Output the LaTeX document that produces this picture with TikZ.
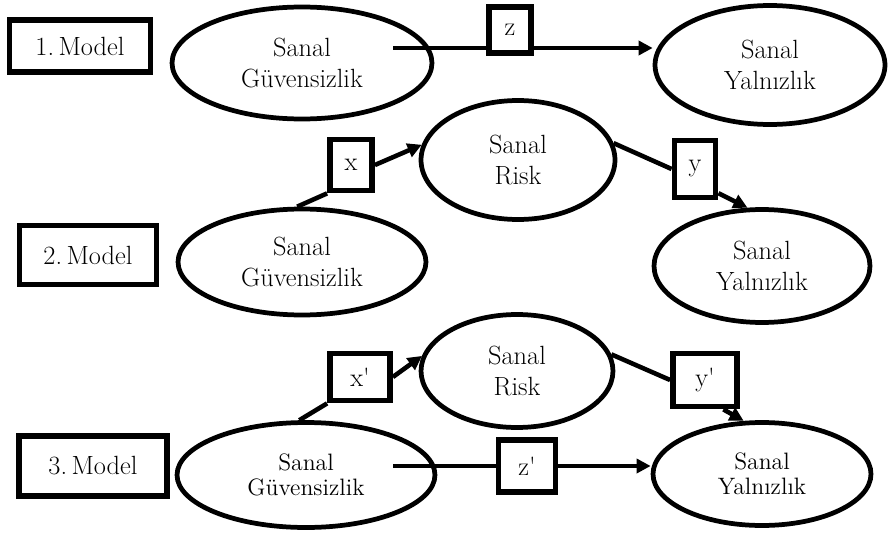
\documentclass[tikz,border=0pt]{standalone}
\usetikzlibrary{shapes.geometric,arrows.meta}
\tikzset{
  oval/.style={ellipse, draw, line width=2.7pt, align=center, inner sep=0pt,
    font=\fontsize{15}{18}\selectfont},
  kucukoval/.style={oval, font=\fontsize{13.5}{14.5}\selectfont},
  modelkutu/.style={draw, line width=3.3pt, inner sep=0pt,
    font=\fontsize{15}{18}\selectfont},
  yolkutu/.style={draw, line width=3.3pt, fill=white, inner sep=0pt,
    font=\fontsize{15}{18}\selectfont},
  cizgi/.style={line width=2.6pt},
  ok/.style={cizgi, -{Triangle[length=8pt,width=8pt]}}
}
\begin{document}
\begin{tikzpicture}[x=0.02cm, y=-0.02cm]
    \useasboundingbox (0,0) rectangle (889,537);

    % 1. Model
    \node[modelkutu, minimum width=2.82cm, minimum height=1.04cm] (m1) at (80,46) {1.\,Model};
    \node[oval, minimum width=5.2cm, minimum height=2.24cm] (g1) at (302,63) {Sanal\\Güvensizlik};
    \node[oval, minimum width=4.6cm, minimum height=2.38cm] (l1) at (770,65) {Sanal\\Yalnızlık};
    \node[yolkutu, minimum width=0.84cm, minimum height=0.92cm] (z) at (510,30) {z};
    \coordinate (zbas) at (393,48);
    \draw[cizgi] (zbas) -- (zbas -| z.west);
    \draw[ok] (zbas -| z.east) -- (zbas -| l1.west);

    % 2. Model
    \node[modelkutu, minimum width=2.74cm, minimum height=1.18cm] (m2) at (88,255) {2.\,Model};
    \node[oval, minimum width=4.96cm, minimum height=2.12cm] (g2) at (302,262) {Sanal\\Güvensizlik};
    \node[oval, minimum width=3.88cm, minimum height=2.38cm] (r2) at (518,160) {Sanal\\Risk};
    \node[oval, minimum width=4.32cm, minimum height=2.26cm] (l2) at (762,266) {Sanal\\Yalnızlık};
    \node[yolkutu, minimum width=0.84cm, minimum height=1.02cm] (x) at (351,165) {x};
    \node[yolkutu, minimum width=0.82cm, minimum height=1.14cm] (y) at (695,169) {y};
    \draw[cizgi] (g2.95) -- (x.south west);
    \draw[ok] (x.east) -- (r2.171);
    \draw[cizgi] (r2.10) -- (y.west);
    \draw[ok] (y.-46) -- (l2.104);

    % 3. Model
    \node[modelkutu, minimum width=2.96cm, minimum height=1.2cm] (m3) at (93,466) {3.\,Model};
    \node[kucukoval, minimum width=5.16cm, minimum height=2.1cm] (g3) at (306,475) {Sanal\\Güvensizlik};
    \node[oval, minimum width=3.84cm, minimum height=2.26cm] (r3) at (517,371) {Sanal\\Risk};
    \node[kucukoval, minimum width=4.36cm, minimum height=2.06cm] (l3) at (762,474) {Sanal\\Yalnızlık};
    \node[yolkutu, minimum width=1.2cm, minimum height=0.94cm] (xp) at (360,377) {x\textquotesingle};
    \node[yolkutu, minimum width=1.28cm, minimum height=1.06cm] (yp) at (705,380) {y\textquotesingle};
    \node[yolkutu, minimum width=1.14cm, minimum height=1.04cm] (zp) at (527,466) {z\textquotesingle};
    \coordinate (zpbas) at (393,466);
    \draw[cizgi] (g3.97) -- (xp.south west);
    \draw[ok] (xp.east) -- (r3.171);
    \draw[cizgi] (r3.10) -- (yp.west);
    \draw[ok] (yp.-58) -- (l3.109);
    \draw[cizgi] (zpbas) -- (zp.west);
    \draw[ok] (zp.east) -- (zp.east -| l3.west);
\end{tikzpicture}
\end{document}
